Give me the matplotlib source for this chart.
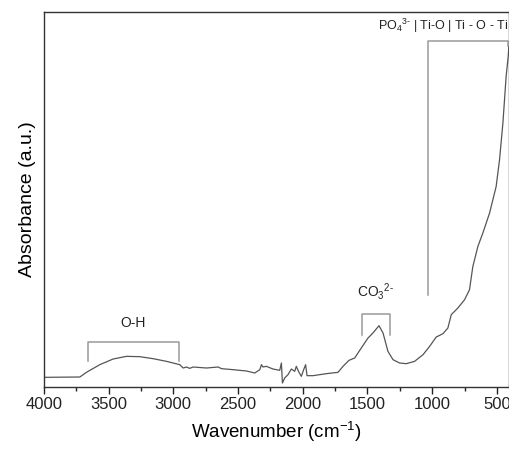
import matplotlib.pyplot as plt

plt.rcParams['font.family'] = ['Liberation Sans', 'DejaVu Sans']
plt.rcParams['mathtext.fontset'] = 'custom'
plt.rcParams['mathtext.rm'] = 'Liberation Sans'
plt.rcParams['mathtext.it'] = 'Liberation Sans:italic'
plt.rcParams['mathtext.bf'] = 'Liberation Sans:bold'
plt.rcParams['mathtext.default'] = 'regular'

# FTIR spectrum (wavenumber cm-1, absorbance a.u.)
wavenumber = [4000, 3722, 3671, 3568, 3465, 3362, 3259, 3156, 3053, 2950,
              2924, 2899, 2873, 2847, 2744, 2654, 2628, 2538, 2435, 2371,
              2332, 2319, 2307, 2281, 2230, 2178, 2165, 2157, 2140, 2114,
              2088, 2062, 2050, 2029, 2011, 1993, 1978, 1967, 1921, 1818,
              1728, 1689, 1643, 1599, 1548, 1496, 1458, 1411, 1380, 1342,
              1303, 1252, 1200, 1136, 1071, 1020, 969, 917, 879, 853,
              802, 750, 712, 686, 647, 609, 557, 506, 480, 454,
              429, 413, 408]
absorbance = [29, 30, 44, 67, 84, 92, 91, 85, 77, 67,
              57, 60, 56, 60, 57, 60, 55, 52, 48, 42,
              52, 67, 60, 62, 54, 50, 72, 12, 27, 37,
              54, 47, 62, 44, 32, 52, 67, 34, 34, 40,
              44, 62, 80, 87, 117, 147, 162, 184, 162, 107,
              82, 72, 70, 77, 97, 122, 150, 160, 177, 217,
              237, 262, 292, 362, 422, 462, 522, 602, 682, 792,
              932, 992, 1022]

# band brackets: (left, right, top, leg bottom, label)
oh_band = (3658, 2958, 135, 77, 'O-H')
co3_band = (1545, 1324, 219, 157, 'CO$_3$$^{2\u2010}$')
po4_band = (1036, 418, 1039, 275, 'PO$_4$$^{3\u2010}$ | Ti-O | Ti - O - Ti')

fig = plt.figure(figsize=(5.1, 4.5), dpi=100)
ax = fig.add_axes([0.086, 0.14, 0.912, 0.833])

ax.plot(wavenumber, absorbance, color='#555555', lw=0.9)

br_color = '#9a9a9a'
for left, right, top, bottom, label in [oh_band, co3_band]:
    ax.plot([left, left, right, right], [bottom, top, top, bottom],
            color=br_color, lw=1.1)
    ax.text((left + right) / 2, top + 35, label, ha='center', va='bottom',
            fontsize=10, color='#222222')

left, right, top, bottom, label = po4_band
ax.plot([left, left, right, right], [bottom, top, top, top - 15],
        color=br_color, lw=1.1)
ax.text(415, top + 18, label, ha='right', va='bottom', fontsize=9,
        color='#222222')

ax.set_xlim(4000, 407)
ax.set_ylim(0, 1125)
ax.set_xticks([4000, 3500, 3000, 2500, 2000, 1500, 1000, 500])
ax.set_xticks(range(3750, 400, -500), minor=True)
ax.set_yticks([])
ax.tick_params(axis='x', which='major', direction='out', length=5,
               width=1, labelsize=12, pad=2, colors='#222222')
ax.tick_params(axis='x', which='minor', direction='out', length=3, width=1,
               colors='#222222')
for s in ax.spines.values():
    s.set_color('#333333')
    s.set_linewidth(1.0)

ax.set_xlabel('Wavenumber (cm$^{-1}$)', fontsize=13.5, labelpad=6)
ax.set_ylabel('Absorbance (a.u.)', fontsize=14, labelpad=6)

fig.savefig('out.png', dpi=100)
